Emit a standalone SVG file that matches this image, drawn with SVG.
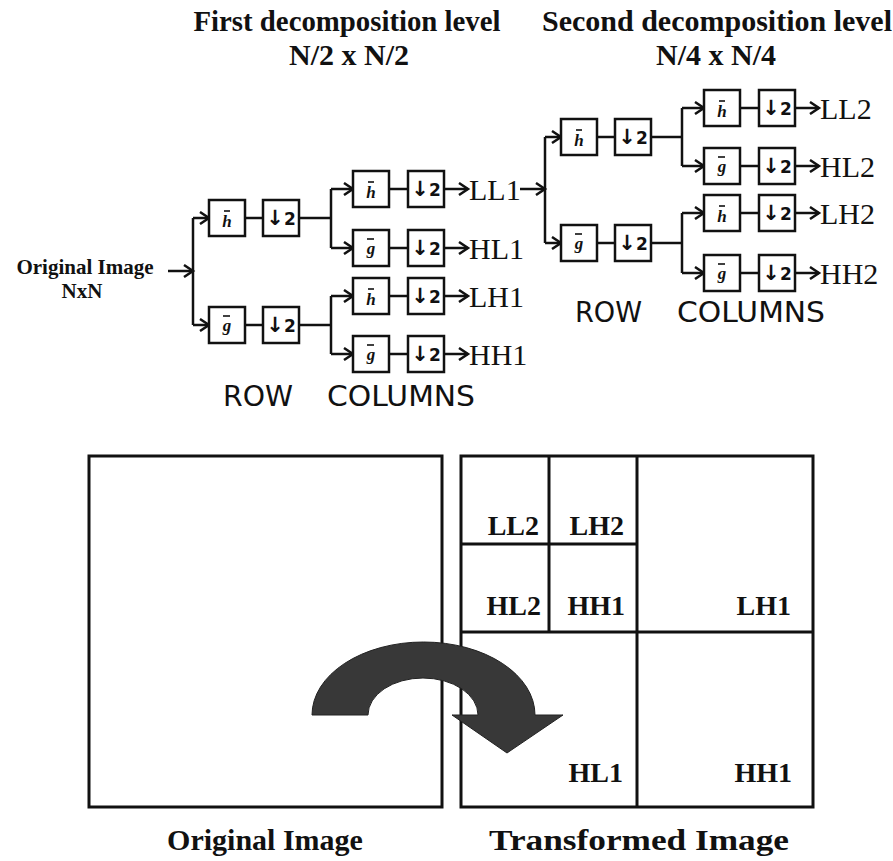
<svg xmlns="http://www.w3.org/2000/svg" width="893" height="861" viewBox="0 0 893 861">
<style>
.bg{fill:#fff}
.box{fill:#fff;stroke:#111;stroke-width:2.5}
.bar{stroke:#111;stroke-width:1.6}
.fs{font-family:"Liberation Serif",serif;font-weight:bold;font-style:italic;font-size:17px;fill:#111;text-anchor:middle}
.dn{font-family:"DejaVu Sans",sans-serif;font-weight:bold;font-size:17px;fill:#111;text-anchor:middle}
.dn .a{font-size:21px}
.ln{fill:none;stroke:#111;stroke-width:2.5}
.ar{fill:none;stroke:#111;stroke-width:2.5;marker-end:url(#chev)}
.out{font-family:"Liberation Serif",serif;font-size:30px;fill:#111}
.ttl{font-family:"Liberation Serif",serif;font-weight:bold;font-size:30px;fill:#111;text-anchor:middle}
.lab{font-family:"Liberation Serif",serif;font-weight:bold;font-size:21px;fill:#111;text-anchor:middle}
.rc{font-family:"DejaVu Sans",sans-serif;font-size:28px;fill:#111}
.frame{fill:#fff;stroke:#111;stroke-width:3}
.grid{stroke:#111;stroke-width:3}
.sb{font-family:"Liberation Serif",serif;font-weight:bold;font-size:28px;fill:#111;text-anchor:end}
.cap{font-family:"Liberation Serif",serif;font-weight:bold;font-size:30px;fill:#111;text-anchor:middle}
.big{fill:#383838;stroke:#222;stroke-width:1}
</style>
<defs>
<marker id="chev" markerUnits="userSpaceOnUse" markerWidth="14" markerHeight="14" refX="11" refY="7" orient="auto">
<path d="M2,1 L11,7 L2,13" fill="none" stroke="#111" stroke-width="2.5"/>
</marker>
</defs>
<rect class="bg" x="0" y="0" width="893" height="861"/>

<!-- Titles -->
<g id="title1">
<text class="ttl" x="347" y="31" textLength="307" lengthAdjust="spacingAndGlyphs">First decomposition level</text>
<text class="ttl" x="349" y="65">N/2 x N/2</text>
</g>
<g id="title2">
<text class="ttl" x="717" y="31" textLength="350" lengthAdjust="spacingAndGlyphs">Second decomposition level</text>
<text class="ttl" x="716" y="65">N/4 x N/4</text>
</g>

<g id="input-label">
<text class="lab" x="85" y="274">Original Image</text>
<text class="lab" x="82" y="298">NxN</text>
</g>

<!-- Connectors -->
<g id="connectors">
<line class="ar" x1="168" y1="271" x2="193" y2="271"/>
<line class="ln" x1="193" y1="218" x2="193" y2="325"/>
<line class="ar" x1="193" y1="218" x2="209" y2="218"/>
<line class="ar" x1="193" y1="325" x2="209" y2="325"/>
<line class="ln" x1="245" y1="218" x2="263" y2="218"/>
<line class="ln" x1="245" y1="325" x2="263" y2="325"/>
<line class="ln" x1="299" y1="218" x2="331" y2="218"/>
<line class="ln" x1="299" y1="325" x2="331" y2="325"/>
<line class="ln" x1="331" y1="189" x2="331" y2="248"/>
<line class="ln" x1="331" y1="296" x2="331" y2="354"/>
<line class="ar" x1="331" y1="189" x2="353" y2="189"/>
<line class="ar" x1="331" y1="248" x2="353" y2="248"/>
<line class="ar" x1="331" y1="296" x2="353" y2="296"/>
<line class="ar" x1="331" y1="354" x2="353" y2="354"/>
<line class="ln" x1="389" y1="189" x2="408" y2="189"/>
<line class="ln" x1="389" y1="248" x2="408" y2="248"/>
<line class="ln" x1="389" y1="296" x2="408" y2="296"/>
<line class="ln" x1="389" y1="354" x2="408" y2="354"/>
<line class="ar" x1="444" y1="189" x2="468" y2="189"/>
<line class="ar" x1="444" y1="248" x2="468" y2="248"/>
<line class="ar" x1="444" y1="296" x2="468" y2="296"/>
<line class="ar" x1="444" y1="354" x2="468" y2="354"/>
<line class="ar" x1="520" y1="189" x2="545" y2="189"/>
<line class="ln" x1="545" y1="137" x2="545" y2="243"/>
<line class="ar" x1="545" y1="137" x2="561" y2="137"/>
<line class="ar" x1="545" y1="243" x2="561" y2="243"/>
<line class="ln" x1="597" y1="137" x2="615" y2="137"/>
<line class="ln" x1="597" y1="243" x2="615" y2="243"/>
<line class="ln" x1="651" y1="137" x2="682" y2="137"/>
<line class="ln" x1="651" y1="243" x2="682" y2="243"/>
<line class="ln" x1="682" y1="108" x2="682" y2="166"/>
<line class="ln" x1="682" y1="213" x2="682" y2="273"/>
<line class="ar" x1="682" y1="108" x2="704" y2="108"/>
<line class="ar" x1="682" y1="166" x2="704" y2="166"/>
<line class="ar" x1="682" y1="213" x2="704" y2="213"/>
<line class="ar" x1="682" y1="273" x2="704" y2="273"/>
<line class="ln" x1="740" y1="108" x2="759" y2="108"/>
<line class="ln" x1="740" y1="166" x2="759" y2="166"/>
<line class="ln" x1="740" y1="213" x2="759" y2="213"/>
<line class="ln" x1="740" y1="273" x2="759" y2="273"/>
<line class="ar" x1="795" y1="108" x2="819" y2="108"/>
<line class="ar" x1="795" y1="166" x2="819" y2="166"/>
<line class="ar" x1="795" y1="213" x2="819" y2="213"/>
<line class="ar" x1="795" y1="273" x2="819" y2="273"/>
</g>

<!-- Level 1 row filters -->
<g id="r1-h" transform="translate(209,200)"><rect class="box" width="36" height="36"/><line class="bar" x1="15" y1="11" x2="21" y2="11"/><text class="fs" x="18" y="27">h</text></g>
<g id="r1-h-ds" transform="translate(263,200)"><rect class="box" width="36" height="36"/><text class="dn" x="18" y="25"><tspan class="a">↓</tspan>2</text></g>
<g id="r1-g" transform="translate(209,307)"><rect class="box" width="36" height="36"/><line class="bar" x1="14" y1="9" x2="21" y2="9"/><text class="fs" x="18" y="24">g</text></g>
<g id="r1-g-ds" transform="translate(263,307)"><rect class="box" width="36" height="36"/><text class="dn" x="18" y="25"><tspan class="a">↓</tspan>2</text></g>

<!-- Level 1 column filters -->
<g id="c1-ll-h" transform="translate(353,171)"><rect class="box" width="36" height="36"/><line class="bar" x1="15" y1="11" x2="21" y2="11"/><text class="fs" x="18" y="27">h</text></g>
<g id="c1-ll-ds" transform="translate(408,171)"><rect class="box" width="36" height="36"/><text class="dn" x="18" y="25"><tspan class="a">↓</tspan>2</text></g>
<g id="c1-hl-g" transform="translate(353,230)"><rect class="box" width="36" height="36"/><line class="bar" x1="14" y1="9" x2="21" y2="9"/><text class="fs" x="18" y="24">g</text></g>
<g id="c1-hl-ds" transform="translate(408,230)"><rect class="box" width="36" height="36"/><text class="dn" x="18" y="25"><tspan class="a">↓</tspan>2</text></g>
<g id="c1-lh-h" transform="translate(353,278)"><rect class="box" width="36" height="36"/><line class="bar" x1="15" y1="11" x2="21" y2="11"/><text class="fs" x="18" y="27">h</text></g>
<g id="c1-lh-ds" transform="translate(408,278)"><rect class="box" width="36" height="36"/><text class="dn" x="18" y="25"><tspan class="a">↓</tspan>2</text></g>
<g id="c1-hh-g" transform="translate(353,336)"><rect class="box" width="36" height="36"/><line class="bar" x1="14" y1="9" x2="21" y2="9"/><text class="fs" x="18" y="24">g</text></g>
<g id="c1-hh-ds" transform="translate(408,336)"><rect class="box" width="36" height="36"/><text class="dn" x="18" y="25"><tspan class="a">↓</tspan>2</text></g>

<g id="out1">
<text class="out" x="469" y="200">LL1</text>
<text class="out" x="469" y="259">HL1</text>
<text class="out" x="469" y="307">LH1</text>
<text class="out" x="469" y="365">HH1</text>
</g>

<!-- Level 2 row filters -->
<g id="r2-h" transform="translate(561,119)"><rect class="box" width="36" height="36"/><line class="bar" x1="15" y1="11" x2="21" y2="11"/><text class="fs" x="18" y="27">h</text></g>
<g id="r2-h-ds" transform="translate(615,119)"><rect class="box" width="36" height="36"/><text class="dn" x="18" y="25"><tspan class="a">↓</tspan>2</text></g>
<g id="r2-g" transform="translate(561,225)"><rect class="box" width="36" height="36"/><line class="bar" x1="14" y1="9" x2="21" y2="9"/><text class="fs" x="18" y="24">g</text></g>
<g id="r2-g-ds" transform="translate(615,225)"><rect class="box" width="36" height="36"/><text class="dn" x="18" y="25"><tspan class="a">↓</tspan>2</text></g>

<!-- Level 2 column filters -->
<g id="c2-ll-h" transform="translate(704,90)"><rect class="box" width="36" height="36"/><line class="bar" x1="15" y1="11" x2="21" y2="11"/><text class="fs" x="18" y="27">h</text></g>
<g id="c2-ll-ds" transform="translate(759,90)"><rect class="box" width="36" height="36"/><text class="dn" x="18" y="25"><tspan class="a">↓</tspan>2</text></g>
<g id="c2-hl-g" transform="translate(704,148)"><rect class="box" width="36" height="36"/><line class="bar" x1="14" y1="9" x2="21" y2="9"/><text class="fs" x="18" y="24">g</text></g>
<g id="c2-hl-ds" transform="translate(759,148)"><rect class="box" width="36" height="36"/><text class="dn" x="18" y="25"><tspan class="a">↓</tspan>2</text></g>
<g id="c2-lh-h" transform="translate(704,195)"><rect class="box" width="36" height="36"/><line class="bar" x1="15" y1="11" x2="21" y2="11"/><text class="fs" x="18" y="27">h</text></g>
<g id="c2-lh-ds" transform="translate(759,195)"><rect class="box" width="36" height="36"/><text class="dn" x="18" y="25"><tspan class="a">↓</tspan>2</text></g>
<g id="c2-hh-g" transform="translate(704,255)"><rect class="box" width="36" height="36"/><line class="bar" x1="14" y1="9" x2="21" y2="9"/><text class="fs" x="18" y="24">g</text></g>
<g id="c2-hh-ds" transform="translate(759,255)"><rect class="box" width="36" height="36"/><text class="dn" x="18" y="25"><tspan class="a">↓</tspan>2</text></g>

<g id="out2">
<text class="out" x="820" y="119">LL2</text>
<text class="out" x="820" y="177">HL2</text>
<text class="out" x="820" y="224">LH2</text>
<text class="out" x="820" y="284">HH2</text>
</g>

<g id="stage-labels">
<text class="rc" x="223" y="406" textLength="70" lengthAdjust="spacingAndGlyphs">ROW</text>
<text class="rc" x="327" y="406" textLength="148" lengthAdjust="spacingAndGlyphs">COLUMNS</text>
<text class="rc" x="575" y="322" textLength="67" lengthAdjust="spacingAndGlyphs">ROW</text>
<text class="rc" x="677" y="322" textLength="148" lengthAdjust="spacingAndGlyphs">COLUMNS</text>
</g>

<!-- Bottom: images -->
<g id="original-image">
<rect class="frame" x="89" y="456" width="353" height="351"/>
</g>
<g id="transformed-image">
<rect class="frame" x="461" y="456" width="352" height="351"/>
<line class="grid" x1="637" y1="456" x2="637" y2="807"/>
<line class="grid" x1="461" y1="632" x2="813" y2="632"/>
<line class="grid" x1="549" y1="456" x2="549" y2="632"/>
<line class="grid" x1="461" y1="544" x2="637" y2="544"/>
<text class="sb" x="539" y="535">LL2</text>
<text class="sb" x="624" y="535">LH2</text>
<text class="sb" x="541" y="615">HL2</text>
<text class="sb" x="625" y="615">HH1</text>
<text class="sb" x="791" y="615">LH1</text>
<text class="sb" x="623" y="782">HL1</text>
<text class="sb" x="792" y="782">HH1</text>
</g>
<g id="transform-arrow">
<path class="big" d="M312,715 A111.5,73 0 0 1 535,715 L563,715 L507,753 L452,715 L478,715 A55,37 0 0 0 368,715 Z"/>
</g>
<g id="captions">
<text class="cap" x="265" y="850">Original Image</text>
<text class="cap" x="639" y="850" textLength="300" lengthAdjust="spacingAndGlyphs">Transformed Image</text>
</g>
</svg>
